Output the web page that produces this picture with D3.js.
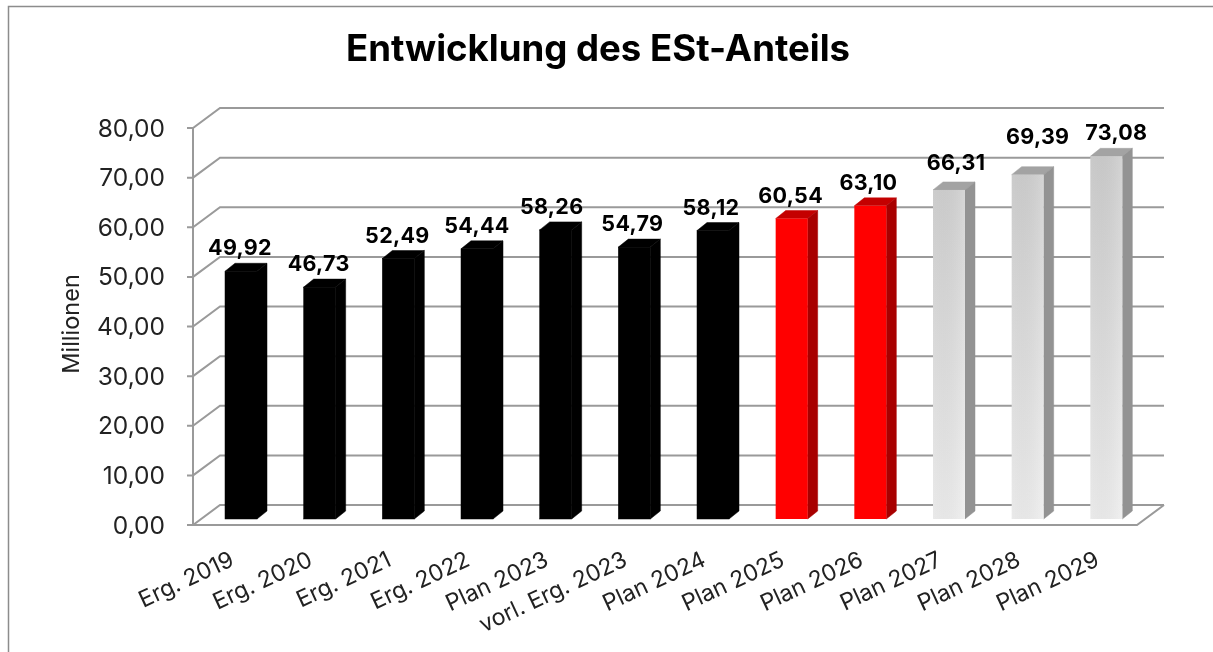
<!DOCTYPE html>
<html>
<head>
<meta charset="utf-8">
<script src="https://cdn.jsdelivr.net/npm/d3@7"></script>
<style>
html, body { margin: 0; padding: 0; background: #fff; overflow: hidden; }
svg { display: block; filter: blur(0.45px); }
text { font-family: Inter, "Noto Sans", sans-serif; fill: #111; }
</style>
</head>
<body>
<svg width="1213" height="652"></svg>
<script>
var categories = ["Erg. 2019", "Erg. 2020", "Erg. 2021", "Erg. 2022", "Plan 2023", "vorl. Erg. 2023",
    "Plan 2024", "Plan 2025", "Plan 2026", "Plan 2027", "Plan 2028", "Plan 2029"];
var values = [49.92, 46.73, 52.49, 54.44, 58.26, 54.79, 58.12, 60.54, 63.10, 66.31, 69.39, 73.08];
var barGroups = ["black", "black", "black", "black", "black", "black", "black", "red", "red", "grey", "grey", "grey"];
var yTicks = [0, 10, 20, 30, 40, 50, 60, 70, 80];

var svg = d3.select("svg");

// depth of the fake 3d floor, and of the bars standing on it
var depthX = 27, depthY = -20;
var barDepthX = 10, barDepthY = -8;
var barOffset = 32, barWidth = 32, barLift = -6;
var lineColor = "#9a9a9a";

// the labels were moved by hand in the original, so they don't sit evenly over the bars
var labelShiftX = [-1, -1, -1, 0, -4, -2, -2, -1, -2, 7, 10, 10];
var labelShiftY = [0, 0, 0, 0, 0, 0, 0, 0, 0, -4, -15, 0];

var x = d3.scaleBand().domain(categories).range([193, 1137]);
var y = d3.scaleLinear().domain([0, 80]).range([525, 128]);

var fmt = function(v) { return d3.format(".2f")(v).replace(".", ","); };

// outer frame: top and left edge only, the rest is cut off
svg.append("path")
    .attr("d", "M8.5,652V6.5H1213")
    .attr("fill", "none")
    .attr("stroke", "#8c8c8c")
    .attr("stroke-width", 1.5);

var defs = svg.append("defs");
var grad = defs.append("linearGradient")
    .attr("id", "greyFace")
    .attr("gradientUnits", "userSpaceOnUse")
    .attr("x1", 0).attr("y1", y(80)).attr("x2", 0).attr("y2", y(0));
grad.append("stop").attr("offset", "0%").attr("stop-color", "#cbcbcb");
grad.append("stop").attr("offset", "100%").attr("stop-color", "#efefef");

var shade = defs.append("linearGradient").attr("id", "greyShade");
shade.append("stop").attr("offset", "0%").attr("stop-color", "#000").attr("stop-opacity", 0.02);
shade.append("stop").attr("offset", "100%").attr("stop-color", "#fff").attr("stop-opacity", 0.12);

var colors = {
    black: {front: "#000", side: "#000", top: "#000"},
    red: {front: "#ff0000", side: "#a80000", top: "#c40000"},
    grey: {front: "url(#greyFace)", side: "#939393", top: "#a3a3a3"}
};

// grid
var grid = svg.append("g").attr("fill", "none").attr("stroke", lineColor).attr("stroke-width", 2);
yTicks.forEach(function(t) {
    grid.append("path")
        .attr("d", d3.line()([
            [x.range()[0] - 6, y(t)],
            [x.range()[0], y(t)],
            [x.range()[0] + depthX, y(t) + depthY],
            [x.range()[1] + depthX, y(t) + depthY]
        ]));
});
grid.append("path").attr("d", d3.line()([[x.range()[0], y(0)], [x.range()[0], y(80)]]));
grid.append("path").attr("d", d3.line()([
    [x.range()[0], y(0)],
    [x.range()[1], y(0)],
    [x.range()[1] + depthX, y(0) + depthY]
]));

// bars
var bars = svg.append("g").selectAll("g").data(values).enter().append("g");

bars.append("path")
    .attr("fill", function(d, i) { return colors[barGroups[i]].top; })
    .attr("stroke", function(d, i) { return colors[barGroups[i]].top; })
    .attr("stroke-width", 0.5)
    .attr("d", function(d, i) {
        var x0 = x(categories[i]) + barOffset, yt = y(d) + barLift;
        return d3.line()([[x0, yt], [x0 + barWidth, yt],
            [x0 + barWidth + barDepthX, yt + barDepthY], [x0 + barDepthX, yt + barDepthY]]) + "Z";
    });
bars.append("path")
    .attr("fill", function(d, i) { return colors[barGroups[i]].side; })
    .attr("stroke", function(d, i) { return colors[barGroups[i]].side; })
    .attr("stroke-width", 0.5)
    .attr("d", function(d, i) {
        var x1 = x(categories[i]) + barOffset + barWidth, yt = y(d) + barLift, yb = y(0) + barLift;
        return d3.line()([[x1, yt], [x1 + barDepthX, yt + barDepthY],
            [x1 + barDepthX, yb + barDepthY], [x1, yb]]) + "Z";
    });
bars.append("rect")
    .attr("x", function(d, i) { return x(categories[i]) + barOffset; })
    .attr("y", function(d) { return y(d) + barLift; })
    .attr("width", barWidth)
    .attr("height", function(d) { return y(0) - y(d); })
    .attr("fill", function(d, i) { return colors[barGroups[i]].front; })
    .attr("stroke", function(d, i) { return barGroups[i] == "black" ? "#000" : "none"; })
    .attr("stroke-width", 0.5);
bars.filter(function(d, i) { return barGroups[i] == "grey"; }).append("rect")
    .attr("x", function(d) { return x(categories[values.indexOf(d)]) + barOffset; })
    .attr("y", function(d) { return y(d) + barLift; })
    .attr("width", barWidth)
    .attr("height", function(d) { return y(0) - y(d); })
    .attr("fill", "url(#greyShade)");

// value labels
bars.append("text")
    .attr("x", function(d, i) { return x(categories[i]) + barOffset + barWidth / 2 + labelShiftX[i]; })
    .attr("y", function(d, i) { return y(d) + barLift - 16 + labelShiftY[i]; })
    .attr("text-anchor", "middle")
    .attr("font-size", 21.5)
    .attr("font-weight", 700)
    .attr("letter-spacing", 0.3)
    .style("fill", "#000")
    .text(function(d) { return fmt(d); });

// y axis labels
svg.append("g").selectAll("text").data(yTicks).enter().append("text")
    .attr("x", 165)
    .attr("y", function(d) { return y(d) + 8.5; })
    .attr("text-anchor", "end")
    .attr("font-size", 24.5)
    .style("fill", "#222")
    .text(function(d) { return fmt(d); });

// category labels
svg.append("g").selectAll("text").data(categories).enter().append("text")
    .attr("text-anchor", "end")
    .attr("font-size", 23)
    .style("fill", "#222")
    .attr("transform", function(d) {
        return "translate(" + (x(d) + x.bandwidth() / 2 + 3) + ",565) rotate(-25)";
    })
    .text(function(d) { return d; });

svg.append("text")
    .attr("transform", "translate(79,324) rotate(-90)")
    .attr("text-anchor", "middle")
    .attr("font-size", 23.5)
    .style("fill", "#222")
    .text("Millionen");

svg.append("text")
    .attr("x", 598)
    .attr("y", 61)
    .attr("text-anchor", "middle")
    .attr("font-size", 36.6)
    .attr("font-weight", 700)
    .style("fill", "#000")
    .text("Entwicklung des ESt-Anteils");
</script>
</body>
</html>
